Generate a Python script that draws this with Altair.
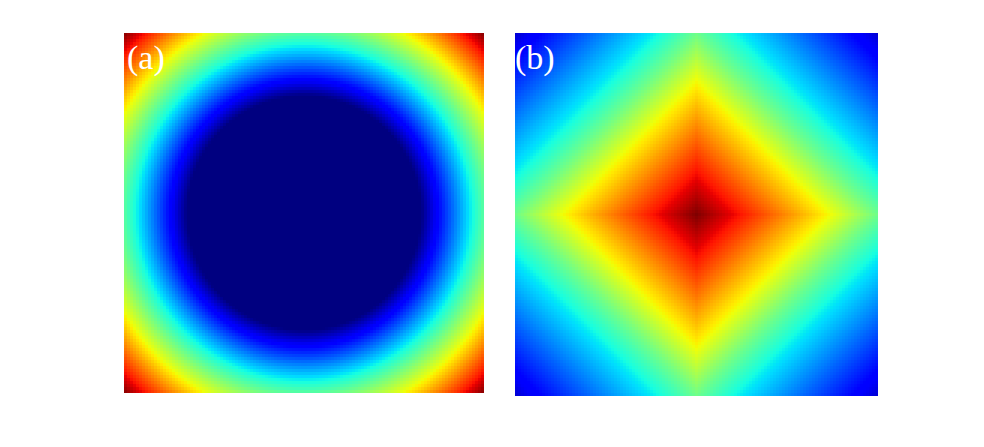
import numpy as np
import pandas as pd
import altair as alt

# jet colormap stops (value -> colour)
jet_stops = [0, 0.11, 0.125, 0.34, 0.35, 0.375, 0.64, 0.65, 0.66, 0.89, 0.91, 1]
jet_colors = ["#000080", "#0000ff", "#0000ff", "#00dbff", "#00e6f7", "#15ffe2",
              "#efff08", "#f7f500", "#ffec00", "#ff1300", "#e80000", "#800000"]

# panel (a): colour value vs normalised radius
a_radius = [0.65, 1.414]
a_value = [0.0, 1.0]
# panel (b): colour value vs normalised L1 distance
b_dist = [0.0, 0.24, 0.48, 0.74, 1.0, 1.23, 2.0]
b_value = [1.0, 0.89, 0.77, 0.64, 0.48, 0.36, 0.07]

n_a = 120
n_b = 121
labels = ["(a)", "(b)"]


def grid(n, kind):
    i, j = np.meshgrid(np.arange(n), np.arange(n))
    i = i.ravel(); j = j.ravel()
    u = (i + 0.5) / n * 2 - 1
    v = (j + 0.5) / n * 2 - 1
    if kind == "a":
        val = np.interp(np.sqrt(u ** 2 + v ** 2), a_radius, a_value)
    else:
        val = np.interp(np.abs(u) + np.abs(v), b_dist, b_value)
    return pd.DataFrame({"i": i, "i2": i + 1, "j": j, "j2": j + 1, "v": np.round(val, 4)})


color_scale = alt.Scale(domain=jet_stops, range=jet_colors, interpolate="rgb", clamp=True)


def panel(n, kind, label, w, tx):
    df = grid(n, kind)
    heat = alt.Chart(df).mark_rect(strokeWidth=0).encode(
        x=alt.X("i:Q", scale=alt.Scale(domain=[0, n], nice=False, zero=False), axis=None),
        x2="i2:Q",
        y=alt.Y("j:Q", scale=alt.Scale(domain=[0, n], nice=False, zero=False), axis=None),
        y2="j2:Q",
        color=alt.Color("v:Q", scale=color_scale, legend=None),
    )
    txt = alt.Chart(pd.DataFrame({"label": [label]})).mark_text(
        font="Times New Roman, Liberation Serif, serif", fontSize=34, color="white",
        align="left", baseline="alphabetic"
    ).encode(text="label:N", x=alt.value(tx), y=alt.value(36))
    return alt.layer(heat, txt).properties(width=w, height=w)


chart = alt.hconcat(
    panel(n_a, "a", labels[0], 360, 3),
    panel(n_b, "b", labels[1], 363, 0),
    spacing=31,
).properties(
    padding={"left": 116, "top": 25, "right": 5, "bottom": 5}
).configure_view(strokeWidth=0)

chart.save("out.html", embed_options={"renderer": "svg", "actions": False})
